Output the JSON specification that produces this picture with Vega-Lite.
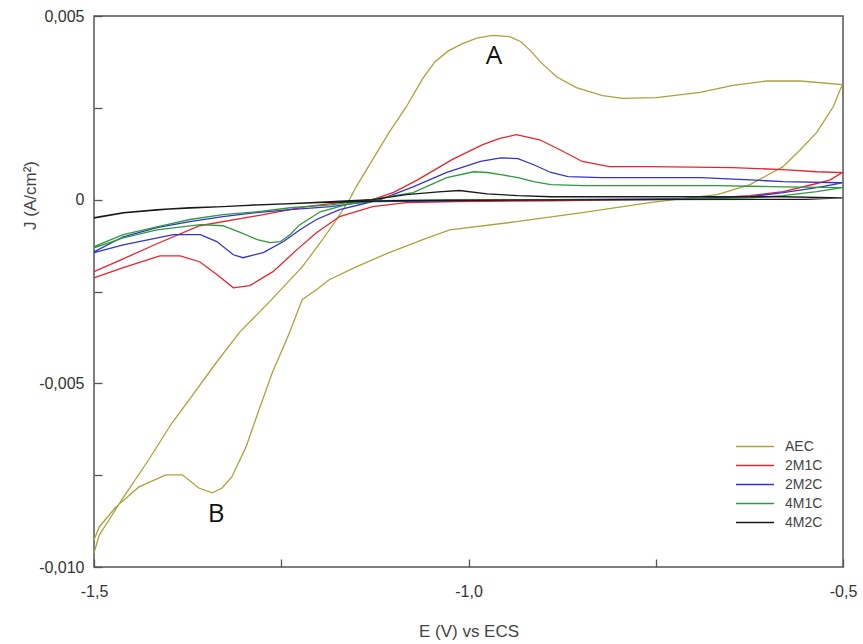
{
  "$schema": "https://vega.github.io/schema/vega-lite/v6.json",
  "width": 749,
  "height": 551,
  "autosize": {"type": "none"},
  "padding": {"left": 94, "top": 16, "right": 20, "bottom": 77},
  "background": "white",
  "datasets": {
    "curves": [
      {"s":"AEC","i":1,"x":-1.500,"y":-0.00962},
      {"s":"AEC","i":2,"x":-1.493,"y":-0.00913},
      {"s":"AEC","i":3,"x":-1.480,"y":-0.00872},
      {"s":"AEC","i":4,"x":-1.463,"y":-0.00817},
      {"s":"AEC","i":5,"x":-1.427,"y":-0.00708},
      {"s":"AEC","i":6,"x":-1.396,"y":-0.00608},
      {"s":"AEC","i":7,"x":-1.373,"y":-0.00545},
      {"s":"AEC","i":8,"x":-1.337,"y":-0.00444},
      {"s":"AEC","i":9,"x":-1.306,"y":-0.00362},
      {"s":"AEC","i":10,"x":-1.263,"y":-0.00272},
      {"s":"AEC","i":11,"x":-1.222,"y":-0.00183},
      {"s":"AEC","i":12,"x":-1.195,"y":-0.00109},
      {"s":"AEC","i":13,"x":-1.176,"y":-0.00054},
      {"s":"AEC","i":14,"x":-1.159,"y":0.0},
      {"s":"AEC","i":15,"x":-1.150,"y":0.00035},
      {"s":"AEC","i":16,"x":-1.128,"y":0.00109},
      {"s":"AEC","i":17,"x":-1.106,"y":0.00183},
      {"s":"AEC","i":18,"x":-1.083,"y":0.00253},
      {"s":"AEC","i":19,"x":-1.061,"y":0.00330},
      {"s":"AEC","i":20,"x":-1.045,"y":0.00375},
      {"s":"AEC","i":21,"x":-1.027,"y":0.00405},
      {"s":"AEC","i":22,"x":-1.008,"y":0.00425},
      {"s":"AEC","i":23,"x":-0.989,"y":0.00440},
      {"s":"AEC","i":24,"x":-0.968,"y":0.00447},
      {"s":"AEC","i":25,"x":-0.945,"y":0.00444},
      {"s":"AEC","i":26,"x":-0.930,"y":0.00430},
      {"s":"AEC","i":27,"x":-0.917,"y":0.00405},
      {"s":"AEC","i":28,"x":-0.903,"y":0.00373},
      {"s":"AEC","i":29,"x":-0.882,"y":0.00334},
      {"s":"AEC","i":30,"x":-0.856,"y":0.00305},
      {"s":"AEC","i":31,"x":-0.821,"y":0.00283},
      {"s":"AEC","i":32,"x":-0.794,"y":0.00276},
      {"s":"AEC","i":33,"x":-0.749,"y":0.00278},
      {"s":"AEC","i":34,"x":-0.691,"y":0.00292},
      {"s":"AEC","i":35,"x":-0.647,"y":0.00311},
      {"s":"AEC","i":36,"x":-0.602,"y":0.00323},
      {"s":"AEC","i":37,"x":-0.557,"y":0.00323},
      {"s":"AEC","i":38,"x":-0.501,"y":0.00313},
      {"s":"AEC","i":39,"x":-0.513,"y":0.00253},
      {"s":"AEC","i":40,"x":-0.535,"y":0.00183},
      {"s":"AEC","i":41,"x":-0.557,"y":0.00136},
      {"s":"AEC","i":42,"x":-0.580,"y":0.00090},
      {"s":"AEC","i":43,"x":-0.624,"y":0.00041},
      {"s":"AEC","i":44,"x":-0.668,"y":0.00014},
      {"s":"AEC","i":45,"x":-0.714,"y":0.00003},
      {"s":"AEC","i":46,"x":-0.758,"y":-0.00008},
      {"s":"AEC","i":47,"x":-0.848,"y":-0.00035},
      {"s":"AEC","i":48,"x":-0.936,"y":-0.00060},
      {"s":"AEC","i":49,"x":-1.025,"y":-0.00082},
      {"s":"AEC","i":50,"x":-1.061,"y":-0.00109},
      {"s":"AEC","i":51,"x":-1.106,"y":-0.00144},
      {"s":"AEC","i":52,"x":-1.150,"y":-0.00183},
      {"s":"AEC","i":53,"x":-1.186,"y":-0.00218},
      {"s":"AEC","i":54,"x":-1.203,"y":-0.00245},
      {"s":"AEC","i":55,"x":-1.222,"y":-0.00272},
      {"s":"AEC","i":56,"x":-1.239,"y":-0.00362},
      {"s":"AEC","i":57,"x":-1.262,"y":-0.00471},
      {"s":"AEC","i":58,"x":-1.283,"y":-0.00591},
      {"s":"AEC","i":59,"x":-1.297,"y":-0.00673},
      {"s":"AEC","i":60,"x":-1.316,"y":-0.00755},
      {"s":"AEC","i":61,"x":-1.329,"y":-0.00785},
      {"s":"AEC","i":62,"x":-1.342,"y":-0.00798},
      {"s":"AEC","i":63,"x":-1.360,"y":-0.00785},
      {"s":"AEC","i":64,"x":-1.382,"y":-0.00749},
      {"s":"AEC","i":65,"x":-1.404,"y":-0.00749},
      {"s":"AEC","i":66,"x":-1.440,"y":-0.00782},
      {"s":"AEC","i":67,"x":-1.471,"y":-0.00837},
      {"s":"AEC","i":68,"x":-1.493,"y":-0.00891},
      {"s":"AEC","i":69,"x":-1.500,"y":-0.00926},

      {"s":"2M1C","i":1,"x":-1.500,"y":-0.00196},
      {"s":"2M1C","i":2,"x":-1.461,"y":-0.00161},
      {"s":"2M1C","i":3,"x":-1.416,"y":-0.00120},
      {"s":"2M1C","i":4,"x":-1.359,"y":-0.00071},
      {"s":"2M1C","i":5,"x":-1.283,"y":-0.00044},
      {"s":"2M1C","i":6,"x":-1.217,"y":-0.00019},
      {"s":"2M1C","i":7,"x":-1.172,"y":-0.00008},
      {"s":"2M1C","i":8,"x":-1.128,"y":0.0},
      {"s":"2M1C","i":9,"x":-1.100,"y":0.00020},
      {"s":"2M1C","i":10,"x":-1.068,"y":0.00054},
      {"s":"2M1C","i":11,"x":-1.022,"y":0.00109},
      {"s":"2M1C","i":12,"x":-0.981,"y":0.00150},
      {"s":"2M1C","i":13,"x":-0.959,"y":0.00166},
      {"s":"2M1C","i":14,"x":-0.936,"y":0.00177},
      {"s":"2M1C","i":15,"x":-0.905,"y":0.00163},
      {"s":"2M1C","i":16,"x":-0.878,"y":0.00136},
      {"s":"2M1C","i":17,"x":-0.848,"y":0.00104},
      {"s":"2M1C","i":18,"x":-0.812,"y":0.00090},
      {"s":"2M1C","i":19,"x":-0.758,"y":0.00090},
      {"s":"2M1C","i":20,"x":-0.647,"y":0.00087},
      {"s":"2M1C","i":21,"x":-0.580,"y":0.00082},
      {"s":"2M1C","i":22,"x":-0.535,"y":0.00076},
      {"s":"2M1C","i":23,"x":-0.501,"y":0.00074},
      {"s":"2M1C","i":24,"x":-0.517,"y":0.00054},
      {"s":"2M1C","i":25,"x":-0.535,"y":0.00044},
      {"s":"2M1C","i":26,"x":-0.580,"y":0.00022},
      {"s":"2M1C","i":27,"x":-0.624,"y":0.00011},
      {"s":"2M1C","i":28,"x":-0.691,"y":0.00003},
      {"s":"2M1C","i":29,"x":-0.762,"y":0.0},
      {"s":"2M1C","i":30,"x":-0.892,"y":-0.00003},
      {"s":"2M1C","i":31,"x":-1.016,"y":-0.00005},
      {"s":"2M1C","i":32,"x":-1.083,"y":-0.00008},
      {"s":"2M1C","i":33,"x":-1.128,"y":-0.00019},
      {"s":"2M1C","i":34,"x":-1.172,"y":-0.00046},
      {"s":"2M1C","i":35,"x":-1.203,"y":-0.00090},
      {"s":"2M1C","i":36,"x":-1.229,"y":-0.00136},
      {"s":"2M1C","i":37,"x":-1.261,"y":-0.00196},
      {"s":"2M1C","i":38,"x":-1.292,"y":-0.00234},
      {"s":"2M1C","i":39,"x":-1.314,"y":-0.00240},
      {"s":"2M1C","i":40,"x":-1.336,"y":-0.00204},
      {"s":"2M1C","i":41,"x":-1.359,"y":-0.00169},
      {"s":"2M1C","i":42,"x":-1.385,"y":-0.00153},
      {"s":"2M1C","i":43,"x":-1.412,"y":-0.00153},
      {"s":"2M1C","i":44,"x":-1.461,"y":-0.00185},
      {"s":"2M1C","i":45,"x":-1.500,"y":-0.00213},

      {"s":"2M2C","i":1,"x":-1.500,"y":-0.00142},
      {"s":"2M2C","i":2,"x":-1.461,"y":-0.00101},
      {"s":"2M2C","i":3,"x":-1.416,"y":-0.00076},
      {"s":"2M2C","i":4,"x":-1.372,"y":-0.00060},
      {"s":"2M2C","i":5,"x":-1.328,"y":-0.00046},
      {"s":"2M2C","i":6,"x":-1.283,"y":-0.00035},
      {"s":"2M2C","i":7,"x":-1.238,"y":-0.00027},
      {"s":"2M2C","i":8,"x":-1.184,"y":-0.00019},
      {"s":"2M2C","i":9,"x":-1.144,"y":-0.00008},
      {"s":"2M2C","i":10,"x":-1.118,"y":0.0},
      {"s":"2M2C","i":11,"x":-1.074,"y":0.00035},
      {"s":"2M2C","i":12,"x":-1.029,"y":0.00074},
      {"s":"2M2C","i":13,"x":-0.984,"y":0.00104},
      {"s":"2M2C","i":14,"x":-0.957,"y":0.00114},
      {"s":"2M2C","i":15,"x":-0.934,"y":0.00112},
      {"s":"2M2C","i":16,"x":-0.913,"y":0.00095},
      {"s":"2M2C","i":17,"x":-0.890,"y":0.00074},
      {"s":"2M2C","i":18,"x":-0.867,"y":0.00063},
      {"s":"2M2C","i":19,"x":-0.823,"y":0.00060},
      {"s":"2M2C","i":20,"x":-0.690,"y":0.00060},
      {"s":"2M2C","i":21,"x":-0.624,"y":0.00054},
      {"s":"2M2C","i":22,"x":-0.580,"y":0.00049},
      {"s":"2M2C","i":23,"x":-0.501,"y":0.00046},
      {"s":"2M2C","i":24,"x":-0.535,"y":0.00033},
      {"s":"2M2C","i":25,"x":-0.580,"y":0.00019},
      {"s":"2M2C","i":26,"x":-0.624,"y":0.00008},
      {"s":"2M2C","i":27,"x":-0.714,"y":0.00003},
      {"s":"2M2C","i":28,"x":-0.892,"y":0.0},
      {"s":"2M2C","i":29,"x":-1.025,"y":-0.00003},
      {"s":"2M2C","i":30,"x":-1.128,"y":-0.00005},
      {"s":"2M2C","i":31,"x":-1.172,"y":-0.00027},
      {"s":"2M2C","i":32,"x":-1.203,"y":-0.00054},
      {"s":"2M2C","i":33,"x":-1.225,"y":-0.00082},
      {"s":"2M2C","i":34,"x":-1.247,"y":-0.00114},
      {"s":"2M2C","i":35,"x":-1.274,"y":-0.00144},
      {"s":"2M2C","i":36,"x":-1.301,"y":-0.00158},
      {"s":"2M2C","i":37,"x":-1.314,"y":-0.00150},
      {"s":"2M2C","i":38,"x":-1.336,"y":-0.00114},
      {"s":"2M2C","i":39,"x":-1.358,"y":-0.00095},
      {"s":"2M2C","i":40,"x":-1.394,"y":-0.00095},
      {"s":"2M2C","i":41,"x":-1.461,"y":-0.00123},
      {"s":"2M2C","i":42,"x":-1.500,"y":-0.00144},

      {"s":"4M1C","i":1,"x":-1.500,"y":-0.00128},
      {"s":"4M1C","i":2,"x":-1.461,"y":-0.00095},
      {"s":"4M1C","i":3,"x":-1.416,"y":-0.00074},
      {"s":"4M1C","i":4,"x":-1.372,"y":-0.00054},
      {"s":"4M1C","i":5,"x":-1.328,"y":-0.00041},
      {"s":"4M1C","i":6,"x":-1.283,"y":-0.00033},
      {"s":"4M1C","i":7,"x":-1.238,"y":-0.00022},
      {"s":"4M1C","i":8,"x":-1.184,"y":-0.00014},
      {"s":"4M1C","i":9,"x":-1.131,"y":0.0},
      {"s":"4M1C","i":10,"x":-1.074,"y":0.00019},
      {"s":"4M1C","i":11,"x":-1.029,"y":0.00060},
      {"s":"4M1C","i":12,"x":-0.993,"y":0.00076},
      {"s":"4M1C","i":13,"x":-0.975,"y":0.00074},
      {"s":"4M1C","i":14,"x":-0.957,"y":0.00068},
      {"s":"4M1C","i":15,"x":-0.934,"y":0.00060},
      {"s":"4M1C","i":16,"x":-0.913,"y":0.00049},
      {"s":"4M1C","i":17,"x":-0.890,"y":0.00041},
      {"s":"4M1C","i":18,"x":-0.846,"y":0.00038},
      {"s":"4M1C","i":19,"x":-0.667,"y":0.00038},
      {"s":"4M1C","i":20,"x":-0.580,"y":0.00035},
      {"s":"4M1C","i":21,"x":-0.501,"y":0.00033},
      {"s":"4M1C","i":22,"x":-0.535,"y":0.00022},
      {"s":"4M1C","i":23,"x":-0.580,"y":0.00011},
      {"s":"4M1C","i":24,"x":-0.624,"y":0.00005},
      {"s":"4M1C","i":25,"x":-0.758,"y":0.0},
      {"s":"4M1C","i":26,"x":-1.025,"y":0.0},
      {"s":"4M1C","i":27,"x":-1.118,"y":-0.00003},
      {"s":"4M1C","i":28,"x":-1.158,"y":-0.00011},
      {"s":"4M1C","i":29,"x":-1.198,"y":-0.00033},
      {"s":"4M1C","i":30,"x":-1.225,"y":-0.00068},
      {"s":"4M1C","i":31,"x":-1.238,"y":-0.00095},
      {"s":"4M1C","i":32,"x":-1.251,"y":-0.00114},
      {"s":"4M1C","i":33,"x":-1.265,"y":-0.00117},
      {"s":"4M1C","i":34,"x":-1.282,"y":-0.00109},
      {"s":"4M1C","i":35,"x":-1.304,"y":-0.00090},
      {"s":"4M1C","i":36,"x":-1.328,"y":-0.00071},
      {"s":"4M1C","i":37,"x":-1.358,"y":-0.00068},
      {"s":"4M1C","i":38,"x":-1.416,"y":-0.00082},
      {"s":"4M1C","i":39,"x":-1.461,"y":-0.00104},
      {"s":"4M1C","i":40,"x":-1.500,"y":-0.00131},

      {"s":"4M2C","i":1,"x":-1.500,"y":-0.00049},
      {"s":"4M2C","i":2,"x":-1.461,"y":-0.00035},
      {"s":"4M2C","i":3,"x":-1.416,"y":-0.00027},
      {"s":"4M2C","i":4,"x":-1.372,"y":-0.00022},
      {"s":"4M2C","i":5,"x":-1.328,"y":-0.00019},
      {"s":"4M2C","i":6,"x":-1.283,"y":-0.00014},
      {"s":"4M2C","i":7,"x":-1.238,"y":-0.00011},
      {"s":"4M2C","i":8,"x":-1.158,"y":-0.00003},
      {"s":"4M2C","i":9,"x":-1.128,"y":0.0},
      {"s":"4M2C","i":10,"x":-1.083,"y":0.00014},
      {"s":"4M2C","i":11,"x":-1.040,"y":0.00021},
      {"s":"4M2C","i":12,"x":-1.012,"y":0.00025},
      {"s":"4M2C","i":13,"x":-0.975,"y":0.00016},
      {"s":"4M2C","i":14,"x":-0.934,"y":0.00011},
      {"s":"4M2C","i":15,"x":-0.890,"y":0.00008},
      {"s":"4M2C","i":16,"x":-0.667,"y":0.00008},
      {"s":"4M2C","i":17,"x":-0.580,"y":0.00008},
      {"s":"4M2C","i":18,"x":-0.501,"y":0.00005},
      {"s":"4M2C","i":19,"x":-0.550,"y":0.00001},
      {"s":"4M2C","i":20,"x":-0.800,"y":0.0},
      {"s":"4M2C","i":21,"x":-1.100,"y":-0.00003},
      {"s":"4M2C","i":22,"x":-1.200,"y":-0.00008},
      {"s":"4M2C","i":23,"x":-1.300,"y":-0.00016},
      {"s":"4M2C","i":24,"x":-1.400,"y":-0.00026},
      {"s":"4M2C","i":25,"x":-1.460,"y":-0.00036},
      {"s":"4M2C","i":26,"x":-1.500,"y":-0.00050}
    ],
    "marks": [
      {"t":"A","x":-0.966,"y":0.00391},
      {"t":"B","x":-1.337,"y":-0.00857}
    ]
  },
  "layer": [
    {
      "mark": {"type": "rule", "color": "#444444", "strokeWidth": 1.5},
      "encoding": {"y": {"datum": 0, "type": "quantitative"}}
    },
    {
      "data": {"name": "curves"},
      "mark": {"type": "line", "strokeWidth": 1.3},
      "encoding": {
        "x": {
          "field": "x", "type": "quantitative",
          "scale": {"domain": [-1.5, -0.5], "nice": false, "zero": false},
          "axis": {
            "values": [-1.5, -1.25, -1, -0.75, -0.5],
            "labelExpr": "datum.value == -1.5 ? '-1,5' : datum.value == -1 ? '-1,0' : datum.value == -0.5 ? '-0,5' : ''",
            "labelPadding": 24,
            "title": "E (V) vs ECS",
            "titleY": 64,
            "titleBaseline": "middle"
          }
        },
        "y": {
          "field": "y", "type": "quantitative",
          "scale": {"domain": [-0.01, 0.005], "nice": false, "zero": false},
          "axis": {
            "values": [-0.01, -0.0075, -0.005, -0.0025, 0, 0.0025, 0.005],
            "labelExpr": "datum.value == 0.005 ? '0,005' : datum.value == 0 ? '0' : datum.value == -0.005 ? '-0,005' : datum.value == -0.01 ? '-0,010' : ''",
            "labelPadding": 18,
            "title": "J (A/cm²)",
            "titleX": -64,
            "titleY": 179,
            "titleAngle": -90,
            "titleAlign": "center",
            "titleBaseline": "middle"
          }
        },
        "color": {
          "field": "s", "type": "nominal",
          "scale": {
            "domain": ["AEC", "2M1C", "2M2C", "4M1C", "4M2C"],
            "range": ["#aba23c", "#e8242c", "#3434cc", "#2f9a3c", "#1a1a1a"]
          },
          "legend": {
            "orient": "none",
            "legendX": 641,
            "legendY": 421,
            "title": null,
            "symbolType": "stroke",
            "symbolSize": 1444,
            "symbolStrokeWidth": 1.5,
            "labelFont": "Liberation Sans",
            "labelFontSize": 14,
            "labelColor": "#444444",
            "labelOffset": 10,
            "clipHeight": 19,
            "rowPadding": 0,
            "padding": 0
          }
        },
        "order": {"field": "i", "type": "quantitative"}
      }
    },
    {
      "data": {"name": "marks"},
      "mark": {"type": "text", "font": "Open Sans", "fontSize": 26, "color": "#111111", "align": "center", "baseline": "middle"},
      "encoding": {
        "x": {"field": "x", "type": "quantitative"},
        "y": {"field": "y", "type": "quantitative"},
        "text": {"field": "t"}
      }
    }
  ],
  "config": {
    "view": {"stroke": "#555555", "strokeWidth": 1.5},
    "axis": {
      "grid": false,
      "domain": false,
      "tickColor": "#555555",
      "tickSize": -8,
      "tickWidth": 1.3,
      "labelFlush": false,
      "labelOverlap": false,
      "labelFont": "Liberation Sans",
      "labelFontSize": 16,
      "labelColor": "#333333",
      "titleFont": "Liberation Sans",
      "titleFontSize": 17,
      "titleFontWeight": "normal",
      "titleColor": "#444444"
    }
  }
}
